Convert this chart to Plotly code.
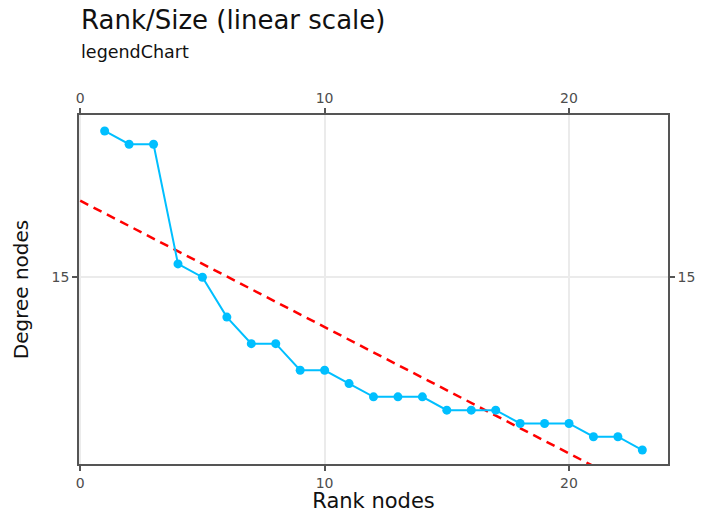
import numpy as np
import plotly.graph_objects as go

# Node degree by rank
rank = list(range(1, 24))
degree = [26, 25, 25, 16, 15, 12, 10, 10, 8, 8, 7, 6, 6, 6, 5, 5, 5, 4, 4, 4, 3, 3, 2]

x_ticks = [0, 10, 20]
y_ticks = [15]

# Least-squares fit line over the ranks
slope, intercept = np.polyfit(rank, degree, 1)
fit_x = [0, 24]
fit_y = [intercept + slope * v for v in fit_x]

x_range = [-0.05, 24.05]
y_range = [0.95, 27.2]

font = "DejaVu Sans, Liberation Sans, sans-serif"
axis_color = "#555555"
tick_font = dict(family=font, size=14, color="#4d4d4d")

fig = go.Figure()
fig.add_trace(go.Scatter(
    x=fit_x, y=fit_y, mode="lines",
    line=dict(color="#ff0000", width=2.5, dash="9px,6px"),
    hoverinfo="skip", showlegend=False,
))
fig.add_trace(go.Scatter(
    x=rank, y=degree, mode="lines+markers",
    line=dict(color="#00bfff", width=2),
    marker=dict(color="#00bfff", size=9),
    showlegend=False,
))

common = dict(
    showline=True, linecolor=axis_color, linewidth=1.5,
    ticks="outside", ticklen=5, tickwidth=1.5, tickcolor=axis_color,
    tickfont=tick_font, zeroline=False, automargin=False,
)

fig.update_layout(
    width=702, height=513,
    margin=dict(l=79, r=34, t=115, b=49),
    paper_bgcolor="white", plot_bgcolor="white",
    font=dict(family=font),
    xaxis=dict(range=x_range, tickvals=x_ticks, showgrid=True,
               gridcolor="#ebebeb", gridwidth=1.5,
               title=dict(text="Rank nodes", font=dict(family=font, size=21, color="#111"),
                          standoff=10),
               **common),
    yaxis=dict(range=y_range, tickvals=y_ticks, showgrid=True,
               gridcolor="#ebebeb", gridwidth=1.5,
               title=dict(text="Degree nodes", font=dict(family=font, size=20, color="#111"),
                          standoff=18),
               **common),
    xaxis2=dict(range=x_range, tickvals=x_ticks, overlaying="x", side="top",
                showgrid=False, anchor="y", **common),
    yaxis2=dict(range=y_range, tickvals=y_ticks, overlaying="y", side="right",
                showgrid=False, anchor="x", **common),
    annotations=[
        dict(text="Rank/Size (linear scale)", xref="paper", yref="paper",
             x=0, y=1 + (115 - 20) / 349, xanchor="left", yanchor="middle",
             showarrow=False, font=dict(family=font, size=26, color="#111")),
        dict(text="legendChart", xref="paper", yref="paper",
             x=0, y=1 + (115 - 52) / 349, xanchor="left", yanchor="middle",
             showarrow=False, font=dict(family=font, size=17.5, color="#111")),
    ],
)

# Invisible trace so the secondary axes are drawn
fig.add_trace(go.Scatter(x=[None], y=[None], xaxis="x2", yaxis="y2",
                         showlegend=False, hoverinfo="skip"))

fig.write_html("out.html")
